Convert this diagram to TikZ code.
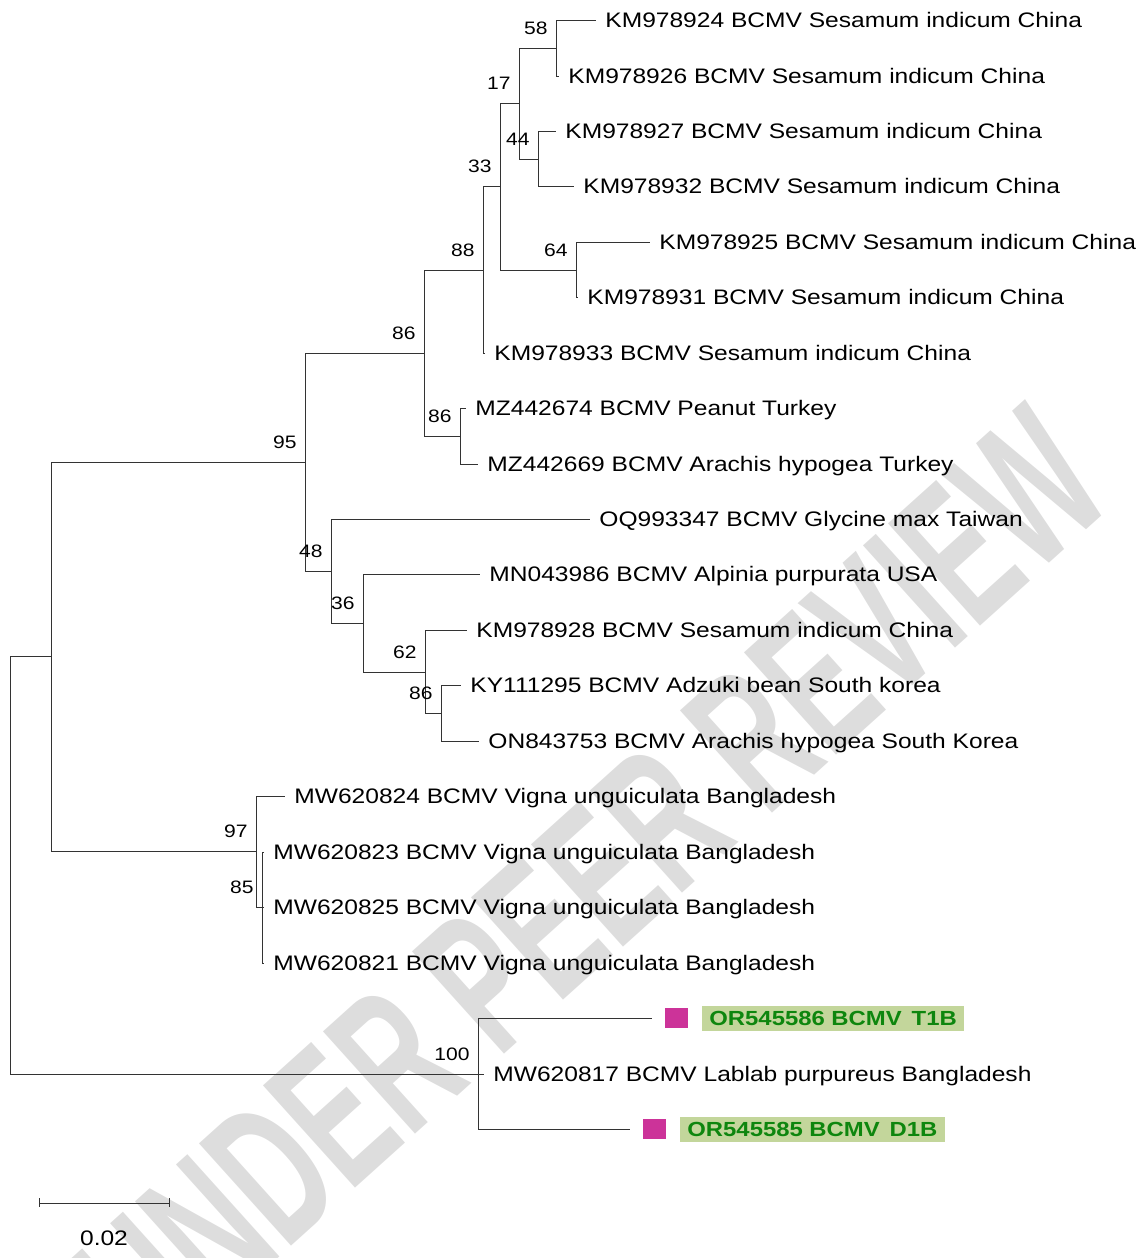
\documentclass[tikz,border=0pt]{standalone}
\usepackage{fontspec}
\setmainfont{Liberation Sans}[FakeStretch=1.17]
\newfontfamily\wmfont{Liberation Sans}[FakeStretch=0.6]
\usetikzlibrary{positioning}
\definecolor{tagfill}{HTML}{C3D69B}
\definecolor{tagpink}{HTML}{CC3399}
\definecolor{taggreen}{HTML}{0E860E}
\definecolor{wmgray}{HTML}{DDDDDD}

\begin{document}
\begin{tikzpicture}[x=0.5pt, y=-0.5pt,
    taxon/.style={anchor=base west, inner sep=0pt, xshift=4.5pt, yshift=-3.75pt,
      font=\fontsize{10.5}{12}\selectfont},
    boot/.style={anchor=base east, inner sep=0pt, xshift=-4pt, yshift=7pt,
      font=\fontsize{9}{11}\selectfont},
    pinkbox/.style={fill=tagpink, minimum width=11.5pt, minimum height=10pt,
      inner sep=0pt, anchor=west, xshift=6.5pt},
    tagbox/.style={fill=tagfill, text=taggreen, inner xsep=3.6pt, inner ysep=0pt,
      minimum height=12.5pt, text height=7.4pt, text depth=0pt,
      font=\bfseries\fontsize{10.2}{12}\selectfont}]
  \useasboundingbox (0,0) rectangle (1144,1258);

  % watermark
  \node[rotate=42, text=wmgray, inner sep=0pt, font={\fontsize{100}{110}\wmfont\bfseries}]
    (wm) at (592,884) {UNDER PEER REVIEW};

  % inner nodes
  \coordinate (root) at (10,865);
  \coordinate (nA) at (51,656);
  \coordinate (n95) at (305,462);
  \coordinate (n86a) at (424,353);
  \coordinate (n88) at (483,270);
  \coordinate (n33) at (500,186);
  \coordinate (n17) at (519,103);
  \coordinate (n58) at (556,48);
  \coordinate (n44) at (538,159);
  \coordinate (n64) at (576,270);
  \coordinate (n86b) at (460,436);
  \coordinate (n48) at (331,571);
  \coordinate (n36) at (363,623);
  \coordinate (n62) at (425,672);
  \coordinate (n86c) at (441,713);
  \coordinate (n97) at (256,851);
  \coordinate (n85) at (262,907);
  \coordinate (n100) at (478,1074);

  % tips
  \coordinate (tKM978924) at (596,20);
  \coordinate (tKM978926) at (559,76);
  \coordinate (tKM978927) at (556,131);
  \coordinate (tKM978932) at (574,186);
  \coordinate (tKM978925) at (650,242);
  \coordinate (tKM978931) at (578,297);
  \coordinate (tKM978933) at (485,353);
  \coordinate (tMZ442674) at (466,408);
  \coordinate (tMZ442669) at (478,464);
  \coordinate (tOQ993347) at (590,519);
  \coordinate (tMN043986) at (480,574);
  \coordinate (tKM978928) at (467,630);
  \coordinate (tKY111295) at (461,685);
  \coordinate (tON843753) at (479,741);
  \coordinate (tMW620824) at (285,796);
  \coordinate (tMW620823) at (264,852);
  \coordinate (tMW620825) at (264,907);
  \coordinate (tMW620821) at (264,963);
  \coordinate (tOR545586) at (652,1018);
  \coordinate (tMW620817) at (484,1074);
  \coordinate (tOR545585) at (630,1129);

  \begin{scope}[every edge/.style={draw=black!80, line width=0.5pt,
      to path={|- (\tikztotarget)}}]
    \path (root) edge (nA);
    \path (root) edge (n100);
    \path (nA) edge (n95);
    \path (nA) edge (n97);
    \path (n95) edge (n86a);
    \path (n95) edge (n48);
    \path (n86a) edge (n88);
    \path (n86a) edge (n86b);
    \path (n88) edge (n33);
    \path (n88) edge (tKM978933);
    \path (n33) edge (n17);
    \path (n33) edge (n64);
    \path (n17) edge (n58);
    \path (n17) edge (n44);
    \path (n58) edge (tKM978924);
    \path (n58) edge (tKM978926);
    \path (n44) edge (tKM978927);
    \path (n44) edge (tKM978932);
    \path (n64) edge (tKM978925);
    \path (n64) edge (tKM978931);
    \path (n86b) edge (tMZ442674);
    \path (n86b) edge (tMZ442669);
    \path (n48) edge (tOQ993347);
    \path (n48) edge (n36);
    \path (n36) edge (tMN043986);
    \path (n36) edge (n62);
    \path (n62) edge (tKM978928);
    \path (n62) edge (n86c);
    \path (n86c) edge (tKY111295);
    \path (n86c) edge (tON843753);
    \path (n97) edge (tMW620824);
    \path (n97) edge (n85);
    \path (n85) edge (tMW620823);
    \path (n85) edge (tMW620825);
    \path (n85) edge (tMW620821);
    \path (n100) edge (tOR545586);
    \path (n100) edge (tMW620817);
    \path (n100) edge (tOR545585);
  \end{scope}

  % bootstrap values
  \node[boot] (b58) at (n58) {58};
  \node[boot] (b17) at (n17) {17};
  \node[boot] (b44) at (n44) {44};
  \node[boot] (b33) at (n33) {33};
  \node[boot] (b64) at (n64) {64};
  \node[boot] (b88) at (n88) {88};
  \node[boot] (b86a) at (n86a) {86};
  \node[boot] (b86b) at (n86b) {86};
  \node[boot] (b95) at (n95) {95};
  \node[boot] (b48) at (n48) {48};
  \node[boot] (b36) at (n36) {36};
  \node[boot] (b62) at (n62) {62};
  \node[boot] (b86c) at (n86c) {86};
  \node[boot] (b97) at (n97) {97};
  \node[boot] (b85) at (n85) {85};
  \node[boot] (b100) at (n100) {100};

  % taxa
  \node[taxon] (lKM978924) at (tKM978924) {KM978924 BCMV Sesamum indicum China};
  \node[taxon] (lKM978926) at (tKM978926) {KM978926 BCMV Sesamum indicum China};
  \node[taxon] (lKM978927) at (tKM978927) {KM978927 BCMV Sesamum indicum China};
  \node[taxon] (lKM978932) at (tKM978932) {KM978932 BCMV Sesamum indicum China};
  \node[taxon] (lKM978925) at (tKM978925) {KM978925 BCMV Sesamum indicum China};
  \node[taxon] (lKM978931) at (tKM978931) {KM978931 BCMV Sesamum indicum China};
  \node[taxon] (lKM978933) at (tKM978933) {KM978933 BCMV Sesamum indicum China};
  \node[taxon] (lMZ442674) at (tMZ442674) {MZ442674 BCMV Peanut Turkey};
  \node[taxon] (lMZ442669) at (tMZ442669) {MZ442669 BCMV Arachis hypogea Turkey};
  \node[taxon] (lOQ993347) at (tOQ993347) {OQ993347 BCMV Glycine max Taiwan};
  \node[taxon] (lMN043986) at (tMN043986) {MN043986 BCMV Alpinia purpurata USA};
  \node[taxon] (lKM978928) at (tKM978928) {KM978928 BCMV Sesamum indicum China};
  \node[taxon] (lKY111295) at (tKY111295) {KY111295 BCMV Adzuki bean South korea};
  \node[taxon] (lON843753) at (tON843753) {ON843753 BCMV Arachis hypogea South Korea};
  \node[taxon] (lMW620824) at (tMW620824) {MW620824 BCMV Vigna unguiculata Bangladesh};
  \node[taxon] (lMW620823) at (tMW620823) {MW620823 BCMV Vigna unguiculata Bangladesh};
  \node[taxon] (lMW620825) at (tMW620825) {MW620825 BCMV Vigna unguiculata Bangladesh};
  \node[taxon] (lMW620821) at (tMW620821) {MW620821 BCMV Vigna unguiculata Bangladesh};
  \node[taxon] (lMW620817) at (tMW620817) {MW620817 BCMV Lablab purpureus Bangladesh};

  % new isolates
  \node[pinkbox] (sqT1B) at (tOR545586) {};
  \node[tagbox, right=6.5pt of sqT1B] (lOR545586) {OR545586 BCMV\hspace{5pt}T1B};
  \node[pinkbox] (sqD1B) at (tOR545585) {};
  \node[tagbox, right=6.5pt of sqD1B] (lOR545585) {OR545585 BCMV\hspace{5pt}D1B};

  % scale bar
  \coordinate (sbL) at (39,1203);
  \coordinate (sbR) at (169,1203);
  \draw[black!80, line width=0.5pt] (sbL) -- (sbR);
  \draw[black!80, line width=0.5pt] ([yshift=2.5pt]sbL) -- ([yshift=-2pt]sbL);
  \draw[black!80, line width=0.5pt] ([yshift=2.5pt]sbR) -- ([yshift=-2pt]sbR);
  \node[anchor=base, inner sep=0pt, font=\fontsize{10.5}{12}\selectfont]
    (sbText) at (104,1245) {0.02};
\end{tikzpicture}
\end{document}
